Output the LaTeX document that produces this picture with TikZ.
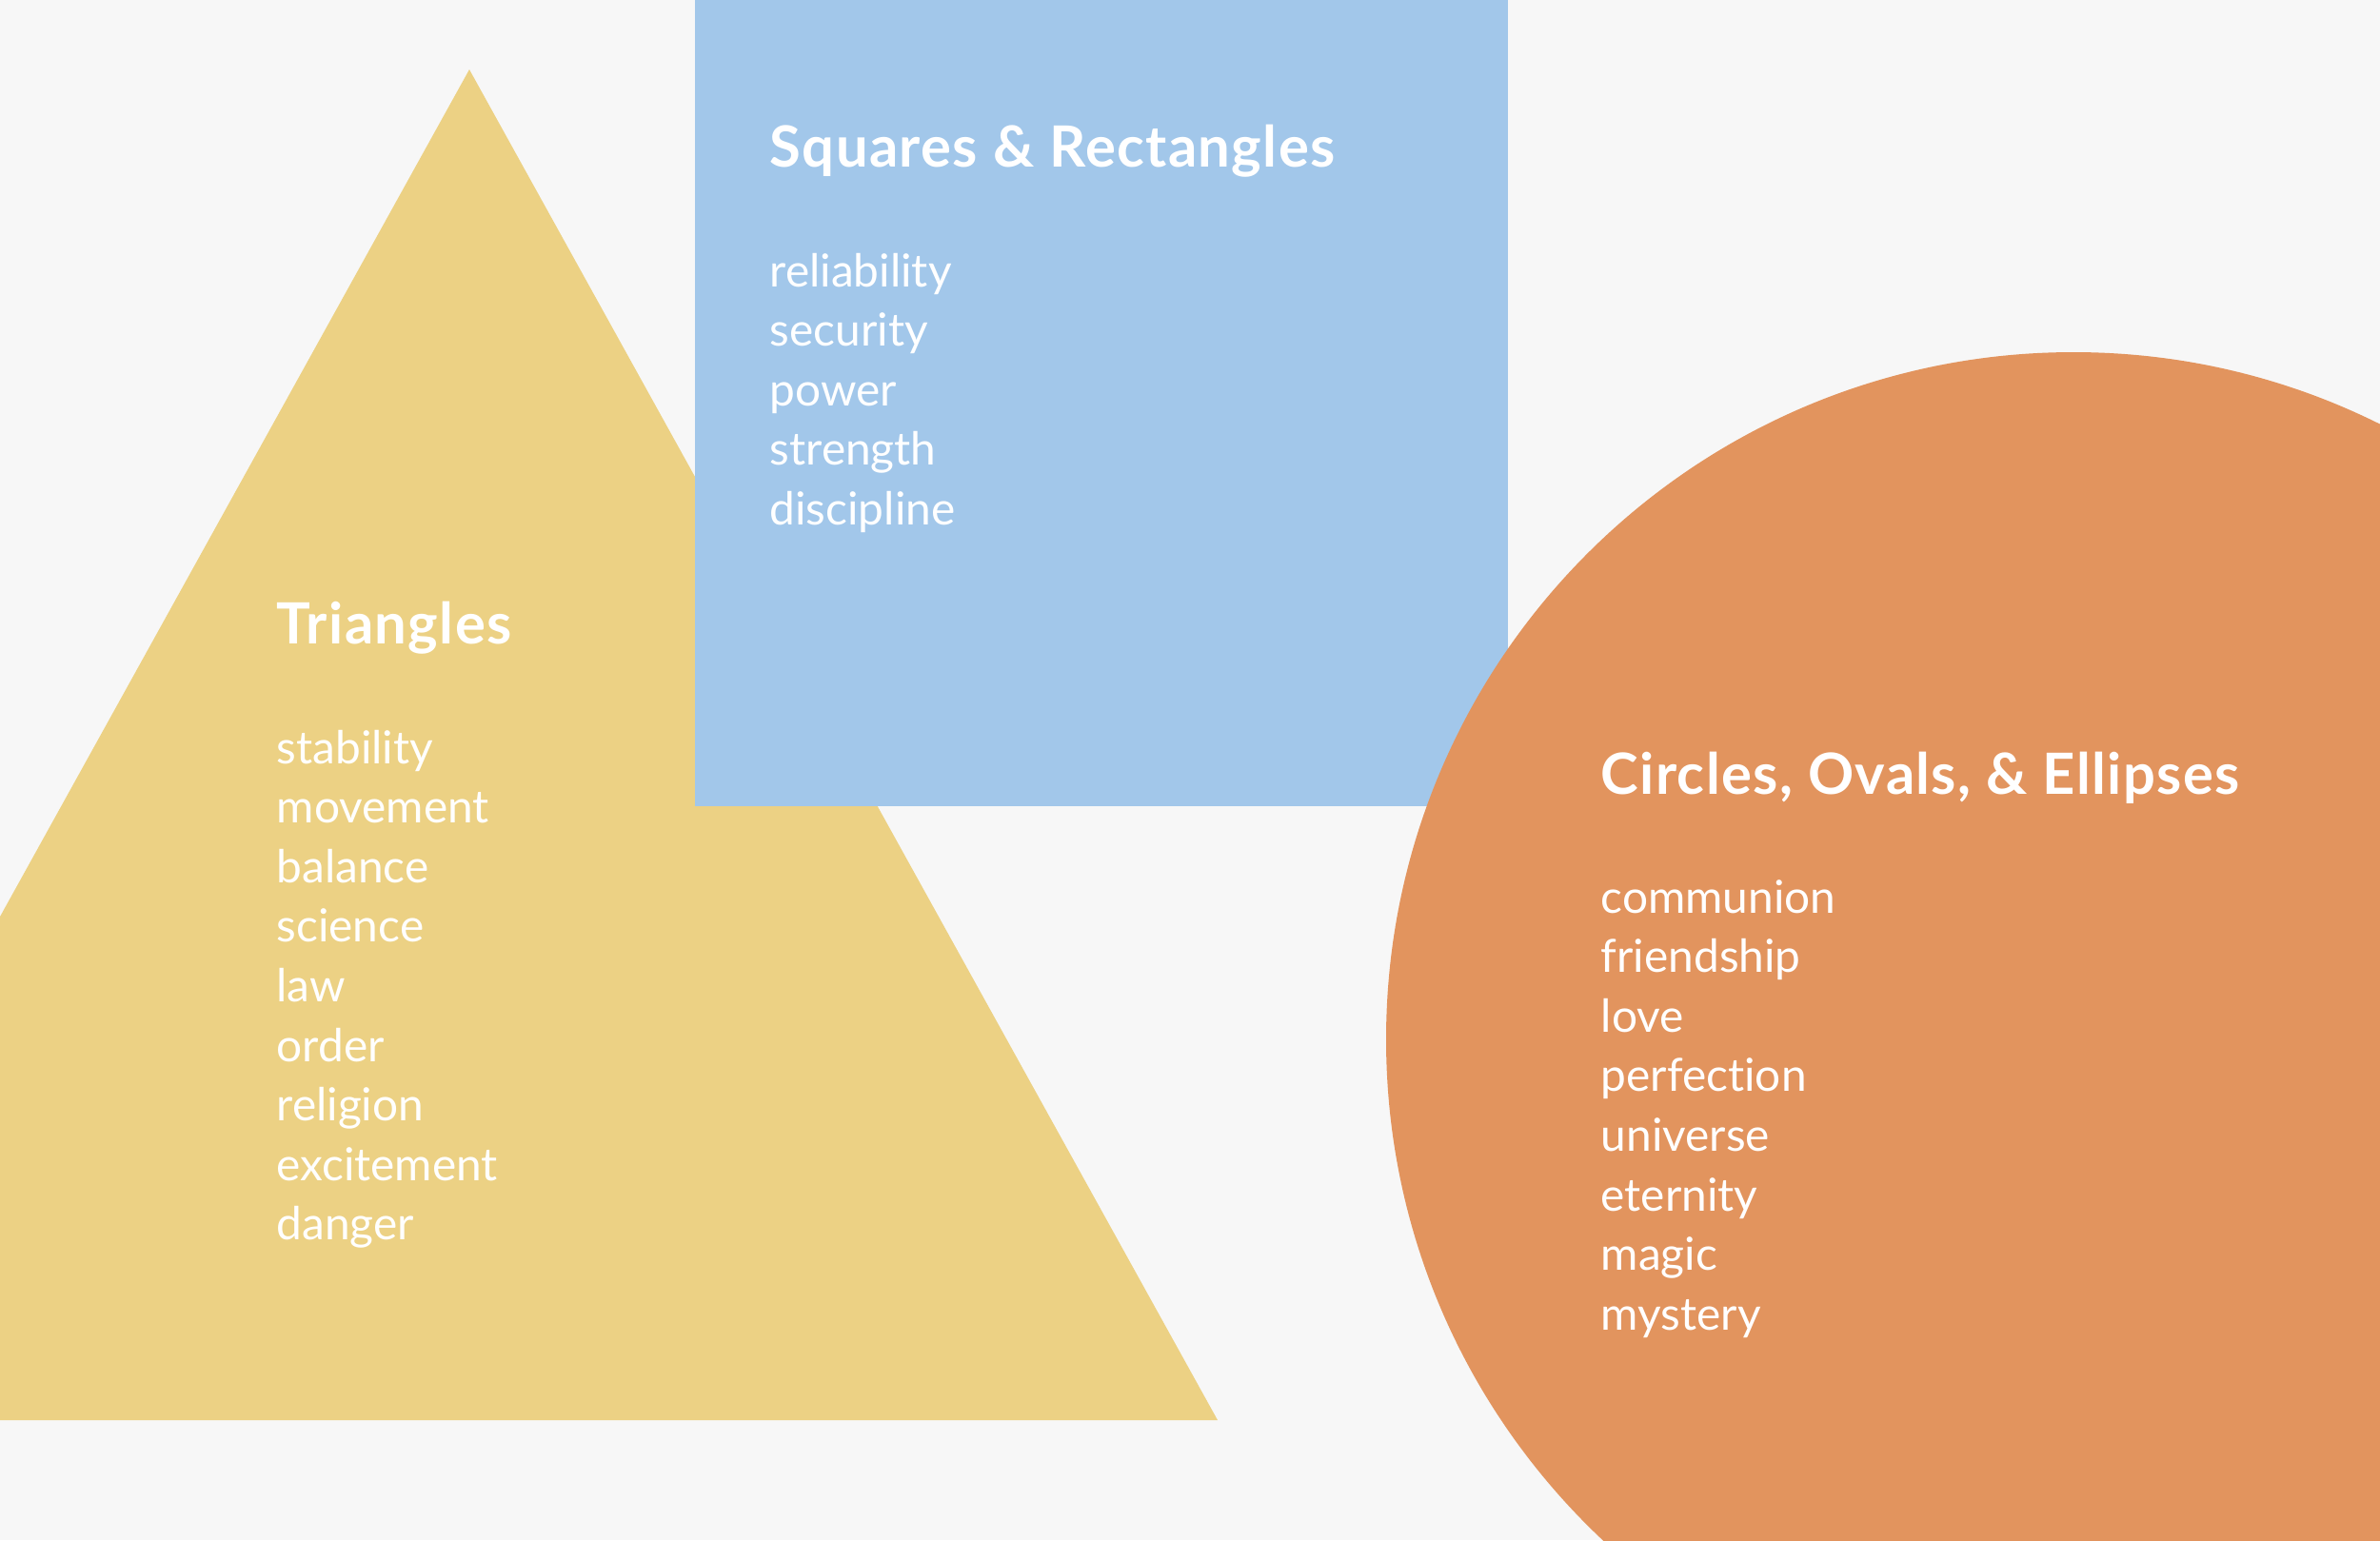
\documentclass[tikz,border=0pt]{standalone}
\usepackage{fontspec}
\setmainfont{Lato}[Ligatures={NoCommon}]
\usepackage{tikz}
\usetikzlibrary{positioning}
\definecolor{paper}{RGB}{247,247,247}
\definecolor{triyellow}{RGB}{236,209,132}
\definecolor{sqblue}{RGB}{162,199,234}
\definecolor{circorange}{RGB}{226,148,94}

\begin{document}
\begin{tikzpicture}
  \tikzset{title/.style={anchor=base west,inner sep=0,text=white,font=\fontsize{17}{20}\selectfont\bfseries\addfontfeatures{LetterSpace=2.3}},
    item/.style={anchor=base west,inner sep=0,text=white,font=\fontsize{13.6}{16}\selectfont}}
  \useasboundingbox (0,0) rectangle (25,-16.18);
  \clip (0,0) rectangle (25,-16.18);
  \fill[paper] (0,0) rectangle (25,-16.18);
  % shapes
  \fill[triyellow] (4.93,-0.73) -- (12.79,-14.92) -- (-2.93,-14.92) -- cycle;
  \fill[sqblue] (7.30,0) rectangle (15.84,-8.47);
  \fill[circorange] (21.78,-10.92) circle (7.22);
  % triangles
  \node[title] (tri) at (2.90,-6.76) {Triangles};
  \foreach \w [count=\i] in {stability,movement,balance,science,law,order,religion,excitement,danger}
    \node[item] (tri\i) at ({2.90},{-8.02-0.626*(\i-1)}) {\w};
  % squares
  \node[title] (sq) at (8.08,-1.75) {Squares \& Rectangles};
  \foreach \w [count=\i] in {reliability,security,power,strength,discipline}
    \node[item] (sq\i) at ({8.08},{-3.01-0.626*(\i-1)}) {\w};
  % circles
  \node[title] (circ) at (16.81,-8.34) {Circles, Ovals, \& Ellipses};
  \foreach \w [count=\i] in {communion,friendship,love,perfection,universe,eternity,magic,mystery}
    \node[item] (circ\i) at ({16.81},{-9.59-0.626*(\i-1)}) {\w};
\end{tikzpicture}
\end{document}
